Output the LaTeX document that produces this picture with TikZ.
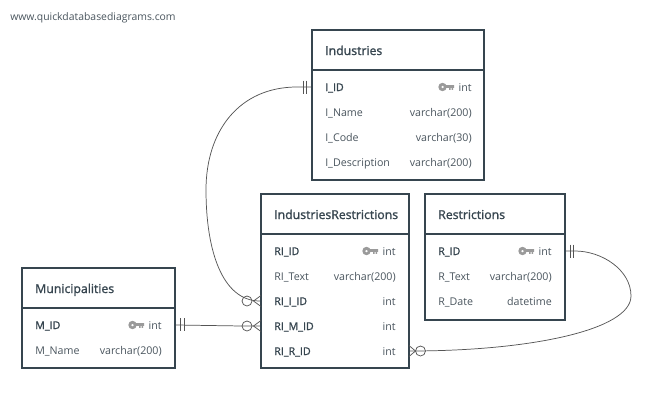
\documentclass[tikz,border=0pt]{standalone}
\usepackage{fontspec}
\setmainfont{Open Sans}
\newfontfamily\semifont[FakeBold=1.3]{Open Sans}
\definecolor{slate}{HTML}{36454F}
\definecolor{rowtext}{HTML}{4A555E}
\definecolor{keygray}{HTML}{9A9A9A}
\definecolor{wire}{HTML}{555555}
\tikzset{
	tablebox/.style={draw=slate,line width=1.5pt,fill=white,inner sep=0pt},
	tabletitle/.style={anchor=west,inner sep=0pt,text height=7.5pt,text depth=0pt,text=slate,font=\fontsize{9.2}{11}\semifont},
	rowname/.style={anchor=west,inner sep=0pt,text height=6pt,text depth=0pt,text=rowtext,font=\fontsize{8}{10}\selectfont},
	keyname/.style={rowname,text=slate,font=\fontsize{8}{10}\semifont},
	rowtype/.style={anchor=east,inner sep=0pt,text height=6pt,text depth=0pt,text=rowtext,font=\fontsize{8}{10}\selectfont},
	wireline/.style={draw=wire,line width=0.55pt},
	pics/pkkey/.style={code={
		\fill[keygray,even odd rule] (-11.5,0) circle (4.2) (-11.5,0) circle (1.5);
		\fill[keygray] (-8,-1.9) rectangle (0,0.8) (-5,0.5) rectangle (-3.4,2.8) (-2.4,0.5) rectangle (-0.8,2.8);
	}},
}
\newcommand{\onemark}[2]{% two bars across a line
	\draw[wireline] (#1,#2-6.5) -- (#1,#2+6.5);
	\draw[wireline] (#1+3.5,#2-6.5) -- (#1+3.5,#2+6.5);
}
\begin{document}
\begin{tikzpicture}[x=0.75pt,y=-0.75pt]
	\useasboundingbox (0,0) rectangle (668,404);
	\fill[white] (0,0) rectangle (668,404);
	\node[rowname,font=\fontsize{7.8}{10}\selectfont] (site) at (10,16) {www.quickdatabasediagrams.com};

	% tables
	\node[tablebox,minimum width=129pt,minimum height=112.5pt] (ind) at (398,105) {};
	\node[tablebox,minimum width=111pt,minimum height=130.5pt] (rel) at (335,281) {};
	\node[tablebox,minimum width=105pt,minimum height=94.5pt] (res) at (495,257) {};
	\node[tablebox,minimum width=114.75pt,minimum height=75pt] (mun) at (98.5,318) {};

	% header lines
	\draw[slate,line width=1.5pt] (312,70) -- (484,70);
	\draw[slate,line width=1.5pt] (261,234) -- (409,234);
	\draw[slate,line width=1.5pt] (425,234) -- (565,234);
	\draw[slate,line width=1.5pt] (22,308) -- (175,308);

	% titles
	\node[tabletitle] (indT) at (325,50) {Industries};
	\node[tabletitle] (relT) at (274,214) {IndustriesRestrictions};
	\node[tabletitle] (resT) at (438,214) {Restrictions};
	\node[tabletitle] (munT) at (35,288) {Municipalities};

	% Industries rows
	\node[keyname] (indA) at (325,87) {I\_ID};
	\node[rowtype] (indAt) at (472,87) {int};
	\pic at (454,87) {pkkey};
	\node[rowname] (indB) at (325,112) {I\_Name};
	\node[rowtype] (indBt) at (472,112) {varchar(200)};
	\node[rowname] (indC) at (325,137) {I\_Code};
	\node[rowtype] (indCt) at (472,137) {varchar(30)};
	\node[rowname] (indD) at (325,162) {I\_Description};
	\node[rowtype] (indDt) at (472,162) {varchar(200)};

	% IndustriesRestrictions rows
	\node[keyname] (relA) at (274,251) {RI\_ID};
	\node[rowtype] (relAt) at (396,251) {int};
	\pic at (378,251) {pkkey};
	\node[rowname] (relB) at (274,276) {RI\_Text};
	\node[rowtype] (relBt) at (396,276) {varchar(200)};
	\node[keyname] (relC) at (274,301) {RI\_I\_ID};
	\node[rowtype] (relCt) at (396,301) {int};
	\node[keyname] (relD) at (274,326) {RI\_M\_ID};
	\node[rowtype] (relDt) at (396,326) {int};
	\node[keyname] (relE) at (274,351) {RI\_R\_ID};
	\node[rowtype] (relEt) at (396,351) {int};

	% Restrictions rows
	\node[keyname] (resA) at (438,251) {R\_ID};
	\node[rowtype] (resAt) at (552,251) {int};
	\pic at (534,251) {pkkey};
	\node[rowname] (resB) at (438,276) {R\_Text};
	\node[rowtype] (resBt) at (552,276) {varchar(200)};
	\node[rowname] (resC) at (438,301) {R\_Date};
	\node[rowtype] (resCt) at (552,301) {datetime};

	% Municipalities rows
	\node[keyname] (munA) at (35,325) {M\_ID};
	\node[rowtype] (munAt) at (162,325) {int};
	\pic at (144,325) {pkkey};
	\node[rowname] (munB) at (35,350) {M\_Name};
	\node[rowtype] (munBt) at (162,350) {varchar(200)};

	% connector ends
	\coordinate (indPort) at (ind.west |- indA);
	\coordinate (resPort) at (res.east |- resA);
	\coordinate (munPort) at (mun.east |- munA);
	\coordinate (relPortI) at (rel.west |- relC);
	\coordinate (relPortM) at (rel.west |- relD);
	\coordinate (relPortR) at (rel.east |- relE);

	% connectors
	\draw[wireline] (indPort) -- ++(-14,0) .. controls (240,87) and (206,130) .. (206,190) .. controls (206,250) and (222,301) .. (relPortI);
	\draw[wireline] (munPort) -- (242,326) -- (relPortM);
	\draw[wireline] (resPort) -- ++(9,0) .. controls (602,251) and (631,270) .. (631,296) .. controls (631,330) and (530,351) .. (relPortR);

	% one marks
	\onemark{303}{87}
	\onemark{180.5}{324.5}
	\onemark{570}{251}

	% many marks
	\foreach \py in {301,326} {
		\draw[wireline,fill=none] (247,\py) circle (5);
		\draw[wireline] (261,\py-5.5) -- (253.5,\py) -- (261,\py+5.5);
	}
	\draw[wireline,fill=none] (420.5,351) circle (5);
	\draw[wireline] (409,345.5) -- (415.5,351) -- (409,356.5);
\end{tikzpicture}
\end{document}
